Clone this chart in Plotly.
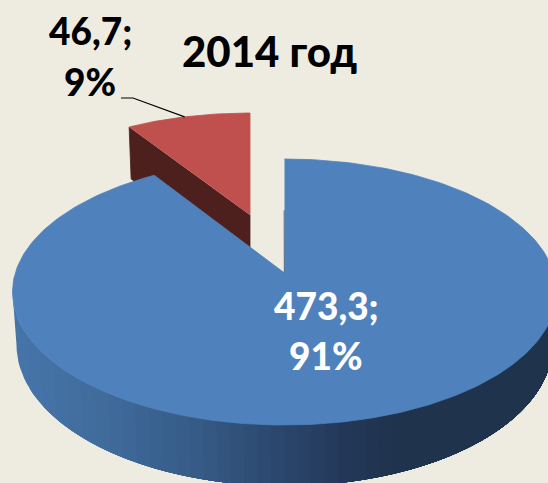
import numpy as np
import plotly.graph_objects as go

# --- data ---
categories = ["A", "B"]
values = [473.3, 46.7]
value_labels = ["473,3;", "46,7;"]
pct_labels = ["91%", "9%"]
title_text = "2014 год"

# --- style / projection ---
BG = "#eeece1"
BLUE = "#4f81bd"
RED = "#c0504d"
RED_DARK = "#4d1f1d"
W, H = 548, 483
FONT = "Lato"

blue_top = dict(cx=284.5, cy=292, rx=272, ry=133)
blue_bot = dict(cx=284.5, cy=345, rx=268, ry=141)
blue_apex = (284.5, 273)
blue_foreshorten = 0.885
red_top = dict(cx=250, cy=203, rx=226, ry=90)
red_apex = (250, 215)
red_depth = 52

side_stops_x = [13, 100, 200, 274, 340, 395, 560]
side_stops_c = [(71, 117, 170), (64, 108, 156), (54, 90, 134), (44, 72, 111),
                (35, 57, 90), (31, 51, 77), (31, 51, 77)]


def ell(e, deg):
    """Point on ellipse; deg clockwise from the top."""
    t = np.radians(deg)
    return e["cx"] + e["rx"] * np.sin(t), e["cy"] - e["ry"] * np.cos(t)


def side_colour(x):
    c = [np.interp(x, side_stops_x, [s[i] for s in side_stops_c]) for i in range(3)]
    return "rgb(%d,%d,%d)" % tuple(int(round(v)) for v in c)


total = sum(values)
blue_sweep = values[0] / total * 360
red_sweep = values[1] / total * 360
blue_end = 360 - (360 - blue_sweep) * blue_foreshorten

fig = go.Figure()


def poly(xs, ys, colour, lw=0.8):
    fig.add_trace(go.Scatter(x=list(xs), y=list(ys), mode="lines", fill="toself",
                             fillcolor=colour, line=dict(color=colour, width=lw),
                             hoverinfo="skip", showlegend=False))


# red slice: side then top
a = np.linspace(-red_sweep, 0, 40)
rx, ry = ell(red_top, a)
poly([rx[0], rx[0] + 2, red_apex[0], red_apex[0]],
     [ry[0], ry[0] + red_depth, red_apex[1] + red_depth, red_apex[1]], RED_DARK)
poly(list(rx) + [red_apex[0]], list(ry) + [red_apex[1]], RED)

# blue slice: side bands painted left to right, each reaching the far right end,
# so that no background shows through at the seams
xs_edges = np.linspace(blue_top["cx"] - blue_top["rx"], blue_top["cx"] + blue_top["rx"], 41)
deg_edges = 180 + np.degrees(np.arcsin(np.clip((blue_top["cx"] - xs_edges) / blue_top["rx"], -1, 1)))
for i, d0 in enumerate(deg_edges[:-1]):
    seg = np.linspace(d0, 90, 80)
    tx, ty = ell(blue_top, seg)
    bx, by = ell(blue_bot, seg)
    poly(list(tx) + list(bx[::-1]), list(ty) + list(by[::-1]),
         side_colour((xs_edges[i] + xs_edges[i + 1]) / 2), lw=0)

# blue slice: top
a = np.linspace(0, blue_end, 300)
bxs, bys = ell(blue_top, a)
poly(list(bxs) + [blue_apex[0]], list(bys) + [blue_apex[1]], BLUE)

# thin inner edge of the gap
sx, sy = ell(blue_top, 0)
fig.add_trace(go.Scatter(x=[blue_apex[0] - 0.4, blue_apex[0] - 0.2],
                         y=[sy + 0.45 * (blue_apex[1] - sy), blue_apex[1]],
                         mode="lines", line=dict(color="#2b4464", width=0.7),
                         hoverinfo="skip", showlegend=False))

# leader line
lx, ly = ell(red_top, -red_sweep * 0.52)
fig.add_trace(go.Scatter(x=[121, 133, lx], y=[98, 98, ly], mode="lines",
                         line=dict(color="black", width=1.2),
                         hoverinfo="skip", showlegend=False))


def text(x, y, s, size, colour):
    fig.add_annotation(x=x, y=y, text=s, showarrow=False, xref="x", yref="y",
                       xanchor="center", yanchor="middle",
                       font=dict(family=FONT, size=size, color=colour, weight=900))


text(269, 51, title_text, 42, "black")
text(90, 30, value_labels[1], 37, "black")
text(90, 81, pct_labels[1], 37, "black")
text(326, 305, value_labels[0], 37, "white")
text(326, 355, pct_labels[0], 37, "white")

fig.update_layout(
    width=W, height=H, margin=dict(l=0, r=0, t=0, b=0), autosize=False,
    paper_bgcolor=BG, plot_bgcolor=BG, showlegend=False,
    xaxis=dict(range=[0, W], visible=False, fixedrange=True),
    yaxis=dict(range=[H, 0], visible=False, fixedrange=True),
)
fig.write_html("out.html", config=dict(displayModeBar=False, responsive=False),
               post_script="document.body.style.margin='0';"
                           "document.body.style.overflow='hidden';"
                           "document.body.style.background='%s';" % BG)
